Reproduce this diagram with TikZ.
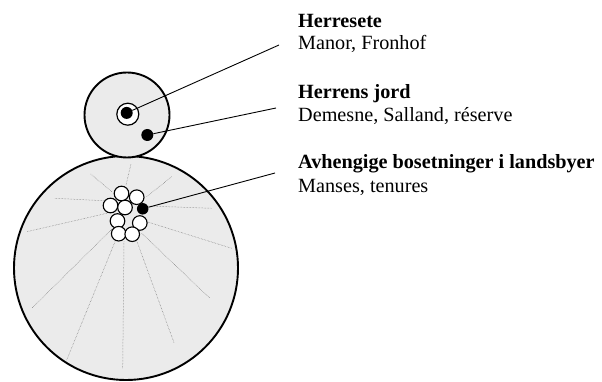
\documentclass[tikz,border=0pt]{standalone}
\usepackage{fontspec}
\setmainfont{Liberation Serif}
\begin{document}
\begin{tikzpicture}[x=1pt,y=-1pt,
  field/.style={draw=black, line width=1.9pt, fill=black!8},
  ray/.style={draw=black!55, line width=0.5pt, densely dotted},
  house/.style={circle, draw=black, line width=1.1pt, fill=white, minimum size=14.6pt, inner sep=0pt},
  blackdot/.style={circle, fill=black, minimum size=12pt, inner sep=0pt},
  ring/.style={circle, draw=black, line width=1.2pt, fill=white, minimum size=22pt, inner sep=0pt},
  conn/.style={draw=black, line width=0.9pt},
  lbl/.style={anchor=base west, inner sep=0pt, font=\fontsize{20.2}{22}\selectfont},
  lblb/.style={lbl, font=\fontsize{20.2}{22}\selectfont\bfseries}]
\useasboundingbox (0,0) rectangle (602,382);
% big field and small demesne
\node[field, circle, minimum size=224pt, inner sep=0pt] (village) at (126,268) {};
\node[field, circle, minimum size=85pt, inner sep=0pt] (demesne) at (127,115) {};
% rays
\draw[ray] (126,185) -- (131,164);
\draw[ray] (111.7,191.7) -- (90.7,174);
\draw[ray] (103.3,200.7) -- (55,198.3);
\draw[ray] (106.7,213.3) -- (26.7,231.7);
\draw[ray] (111.7,229.3) -- (31.7,308.3);
\draw[ray] (115,241.7) -- (66.7,360);
\draw[ray] (124,241.7) -- (122.7,368.3);
\draw[ray] (136.7,240.7) -- (174,342.7);
\draw[ray] (141.7,233.3) -- (210,298.3);
\draw[ray] (146.7,221.7) -- (231.7,248.3);
\draw[ray] (148.3,206) -- (211.7,208.3);
\draw[ray] (146.7,196.7) -- (171.7,176.7);
% houses
\node[house] (h1) at (121.5,193.5) {};
\node[house] (h2) at (136.7,197.2) {};
\node[house] (h3) at (110.5,205.5) {};
\node[house] (h4) at (125,207.5) {};
\node[house] (h5) at (117.5,221) {};
\node[house] (h6) at (139.8,223) {};
\node[house] (h7) at (118.7,233.7) {};
\node[house] (h8) at (132.2,234.2) {};
% manor ring
\node[ring] (ring) at (127.8,114.2) {};
% label anchors
\coordinate (e1) at (279,45);
\coordinate (e2) at (276,108);
\coordinate (e3) at (275,173);
% dots
\node[blackdot] (manor) at (126.7,112.9) {};
\node[blackdot] (land) at (147.3,135) {};
\node[blackdot, minimum size=11.5pt] (tenure) at (142.7,208.8) {};
% connectors
\draw[conn] (manor) -- (e1);
\draw[conn] (land) -- (e2);
\draw[conn] (tenure) -- (e3);
% labels
\node[lblb] (t1) at (298,27.3) {Herresete};
\node[lbl] (s1) at (298,50) {Manor, Fronhof};
\node[lblb] (t2) at (298,98.3) {Herrens jord};
\node[lbl] (s2) at (298,121.5) {Demesne, Salland, réserve};
\node[lblb] (t3) at (298,168.5) {Avhengige bosetninger i landsbyer};
\node[lbl] (s3) at (298,192.5) {Manses, tenures};
\end{tikzpicture}
\end{document}
